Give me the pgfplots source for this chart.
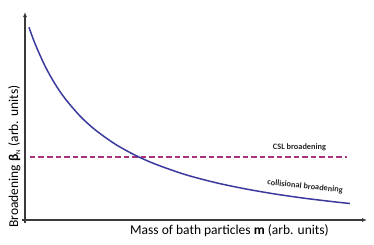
\documentclass[border=0pt]{standalone}
\usepackage{pgfplots}
\pgfplotsset{compat=1.18}
\usepackage{fontspec}
\setmainfont{Carlito}
\usetikzlibrary{arrows.meta}
\definecolor{curveblue}{HTML}{3B3A9E}
\definecolor{cslpurple}{HTML}{A8327E}
\definecolor{axgray}{HTML}{3A3A3A}
\begin{document}
\begin{tikzpicture}[x=1pt,y=1pt]
\useasboundingbox (-25,-24) rectangle (349,220);
\begin{axis}[
  anchor=origin, at={(0,0)},
  scale only axis, width=342pt, height=208pt,
  xmin=0, xmax=342, ymin=0, ymax=208,
  axis lines=left,
  axis line style={axgray, line width=1.2pt, -{Latex[length=5pt,width=4pt]}},
  xtick=\empty, ytick=\empty,
  clip=false,
  xlabel={Mass of bath particles \textbf{m} (arb. units)},
  ylabel={Broadening \textbf{β}\textsubscript{\scalebox{0.7}{N}} (arb. units)},
  label style={font=\fontsize{13.5}{15}\selectfont, text=black},
  xlabel style={at={(axis description cs:0.598,0)}, anchor=north, yshift=-1pt},
  ylabel style={at={(axis description cs:0,0.305)}, anchor=south, yshift=1pt},
]
\draw[axgray, line width=1.2pt] (axis cs:-3,0) -- (axis cs:0,0);
\draw[axgray, line width=1.2pt] (axis cs:0,-3) -- (axis cs:0,0);
\addplot[cslpurple, line width=1.7pt, dash pattern=on 5.5pt off 3pt] coordinates {(5,63.3) (322,63.3)};
\addplot[curveblue, line width=1.5pt, smooth] coordinates {
(4,192.7) (10,176.4) (20,154.0) (30,136.1) (40,121.5) (55,104.0) (70,90.3) (90,76.0) (110,64.9) (130,56.0) (160,45.5) (190,37.5) (220,31.2) (250,26.0) (280,21.7) (310,18.1) (325,16.5)};
\node[font=\fontsize{8.3}{9}\selectfont\bfseries, text=black!85] at (axis cs:274.5,72.7) {CSL broadening};
\node[font=\fontsize{8.3}{9}\selectfont\bfseries, text=black!85, rotate=-6] at (axis cs:280,33.3) {collisional broadening};
\end{axis}
\end{tikzpicture}
\end{document}
